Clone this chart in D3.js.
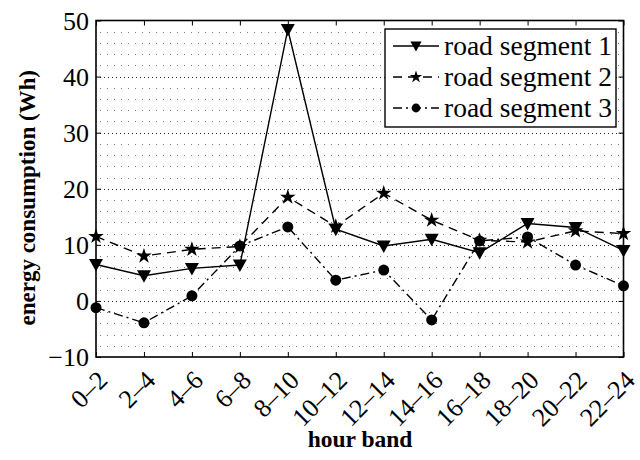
<!DOCTYPE html>
<html>
<head>
<meta charset="utf-8">
<script src="https://cdn.jsdelivr.net/npm/d3@7"></script>
<style>
  html, body { margin: 0; padding: 0; background: #fff; }
</style>
</head>
<body>
<svg id="chart" width="640" height="460" style="font-family: 'Liberation Serif', 'Times New Roman', 'DejaVu Serif', serif;"></svg>
<script>
// Hour bands and energy consumption (Wh) for each road segment
const hourBands = ["0–2","2–4","4–6","6–8","8–10","10–12","12–14","14–16","16–18","18–20","20–22","22–24"];
const segment1 = [6.5, 4.5, 5.8, 6.4, 48.4, 12.8, 9.8, 11.0, 8.6, 13.8, 13.1, 9.0];
const segment2 = [11.5, 8.0, 9.2, 9.7, 18.5, 13.3, 19.2, 14.4, 10.8, 10.5, 12.5, 12.0];
const segment3 = [-1.2, -3.9, 0.9, 9.8, 13.2, 3.7, 5.5, -3.4, 10.7, 11.4, 6.4, 2.7];
const seriesNames = ["road segment 1", "road segment 2", "road segment 3"];
const yTicks = [-10, 0, 10, 20, 30, 40, 50];

const FONT = "'Liberation Serif', 'Times New Roman', 'DejaVu Serif', serif";
const svg = d3.select("#chart");
const margin = { left: 96, right: 16.5, top: 20.5, bottom: 103 };
const W = 640, H = 460;

const x = d3.scalePoint().domain(hourBands).range([margin.left, W - margin.right]);
const y = d3.scaleLinear().domain([-10, 50]).range([H - margin.bottom, margin.top]);

// dotted grid: minor rows every 2 Wh, major rows at labelled ticks
const minorRows = d3.range(-8, 50, 2).filter(v => v % 10 !== 0);
svg.append("g").selectAll("line").data(minorRows).join("line")
  .attr("x1", margin.left + 4).attr("x2", W - margin.right)
  .attr("y1", d => Math.round(y(d)) + 0.5).attr("y2", d => Math.round(y(d)) + 0.5)
  .attr("stroke", "#777").attr("stroke-width", 1)
  .attr("stroke-dasharray", "1,6");
svg.append("g").selectAll("line").data(yTicks.filter(v => v > -10 && v < 50)).join("line")
  .attr("x1", margin.left + 4).attr("x2", W - margin.right)
  .attr("y1", d => Math.round(y(d)) + 0.5).attr("y2", d => Math.round(y(d)) + 0.5)
  .attr("stroke", "#222").attr("stroke-width", 1)
  .attr("stroke-dasharray", "1,3");

// axes with inward ticks
const tickLen = 5;
const axisLeft = d3.axisLeft(y).tickValues(yTicks).tickSize(-tickLen).tickPadding(7)
  .tickFormat(d => d < 0 ? "\u2212" + Math.abs(d) : d);
const gL = svg.append("g").attr("transform", `translate(${margin.left},0)`).call(axisLeft);
gL.select(".domain").remove();
gL.selectAll("text").style("font-family", FONT).style("font-size", "26px").attr("fill", "#000").attr("dy", "0.34em");

const axisRight = d3.axisRight(y).tickValues(yTicks).tickSize(-tickLen).tickFormat("");
const gR = svg.append("g").attr("transform", `translate(${W - margin.right},0)`).call(axisRight);
gR.select(".domain").remove();

const axisBottom = d3.axisBottom(x).tickSize(-tickLen).tickFormat("");
const gB = svg.append("g").attr("transform", `translate(0,${H - margin.bottom})`).call(axisBottom);
gB.select(".domain").remove();
const axisTop = d3.axisTop(x).tickSize(-tickLen).tickFormat("");
const gT = svg.append("g").attr("transform", `translate(0,${margin.top})`).call(axisTop);
gT.select(".domain").remove();
svg.selectAll(".tick line").attr("stroke", "#000").attr("stroke-width", 1);

// rotated hour-band labels
svg.append("g").selectAll("text").data(hourBands).join("text")
  .attr("transform", d => `translate(${x(d)},${H - margin.bottom + 12}) rotate(-45)`)
  .attr("text-anchor", "end").attr("dy", "0.7em")
  .style("font-family", FONT).style("font-size", "26px")
  .text(d => d);

// plot frame
svg.append("rect")
  .attr("x", margin.left).attr("y", margin.top)
  .attr("width", W - margin.left - margin.right)
  .attr("height", H - margin.top - margin.bottom)
  .attr("fill", "none").attr("stroke", "#000").attr("stroke-width", 1.6);

// axis titles
svg.append("text")
  .attr("x", 360).attr("y", 447)
  .attr("text-anchor", "middle")
  .style("font-family", FONT).style("font-size", "23.5px").style("font-weight", "bold")
  .text("hour band");
svg.append("text")
  .attr("transform", `translate(35,${(y(-10) + y(50)) / 2 + 9}) rotate(-90)`)
  .attr("text-anchor", "middle")
  .style("font-family", FONT).style("font-size", "23px").style("font-weight", "bold")
  .text("energy consumption (Wh)");

// series styles
const styles = [
  { data: segment1, dash: null, marker: "tri" },
  { data: segment2, dash: "9,6", marker: "star" },
  { data: segment3, dash: "9,4,2,4", marker: "dot" }
];

const triPath = "M-7,-5.5 L7,-5.5 L0,7 Z";

function drawMarker(g, kind, cx, cy, scale = 1) {
  if (kind === "tri") {
    g.append("path").attr("d", triPath).attr("transform", `translate(${cx},${cy}) scale(${scale})`).attr("fill", "#000");
  } else if (kind === "star") {
    g.append("path").attr("d", d3.symbol(d3.symbolStar, 75 * scale * scale)()).attr("transform", `translate(${cx},${cy})`).attr("fill", "#000");
  } else {
    g.append("circle").attr("cx", cx).attr("cy", cy).attr("r", 5.5 * scale).attr("fill", "#000");
  }
}

const line = d3.line().x((d, i) => x(hourBands[i])).y(d => y(d));
styles.forEach(s => {
  const g = svg.append("g");
  g.append("path").datum(s.data).attr("d", line)
    .attr("fill", "none").attr("stroke", "#000").attr("stroke-width", 1.4)
    .attr("stroke-dasharray", s.dash);
  s.data.forEach((v, i) => drawMarker(g, s.marker, x(hourBands[i]), y(v)));
});

// legend
const lg = svg.append("g");
const lx = 385, ly = 29, lw = 231, lh = 98;
lg.append("rect").attr("x", lx).attr("y", ly).attr("width", lw).attr("height", lh)
  .attr("fill", "#fff").attr("stroke", "#000").attr("stroke-width", 1.4);
styles.forEach((s, i) => {
  const cy = ly + 17 + i * 31;
  lg.append("line").attr("x1", lx + 8).attr("x2", lx + 54).attr("y1", cy).attr("y2", cy)
    .attr("stroke", "#000").attr("stroke-width", 1.4).attr("stroke-dasharray", s.dash);
  drawMarker(lg, s.marker, lx + 31, cy, 0.8);
  lg.append("text").attr("x", lx + 59).attr("y", cy).attr("dy", "0.33em")
    .style("font-family", FONT).style("font-size", "27.5px").text(seriesNames[i]);
});
</script>
</body>
</html>
